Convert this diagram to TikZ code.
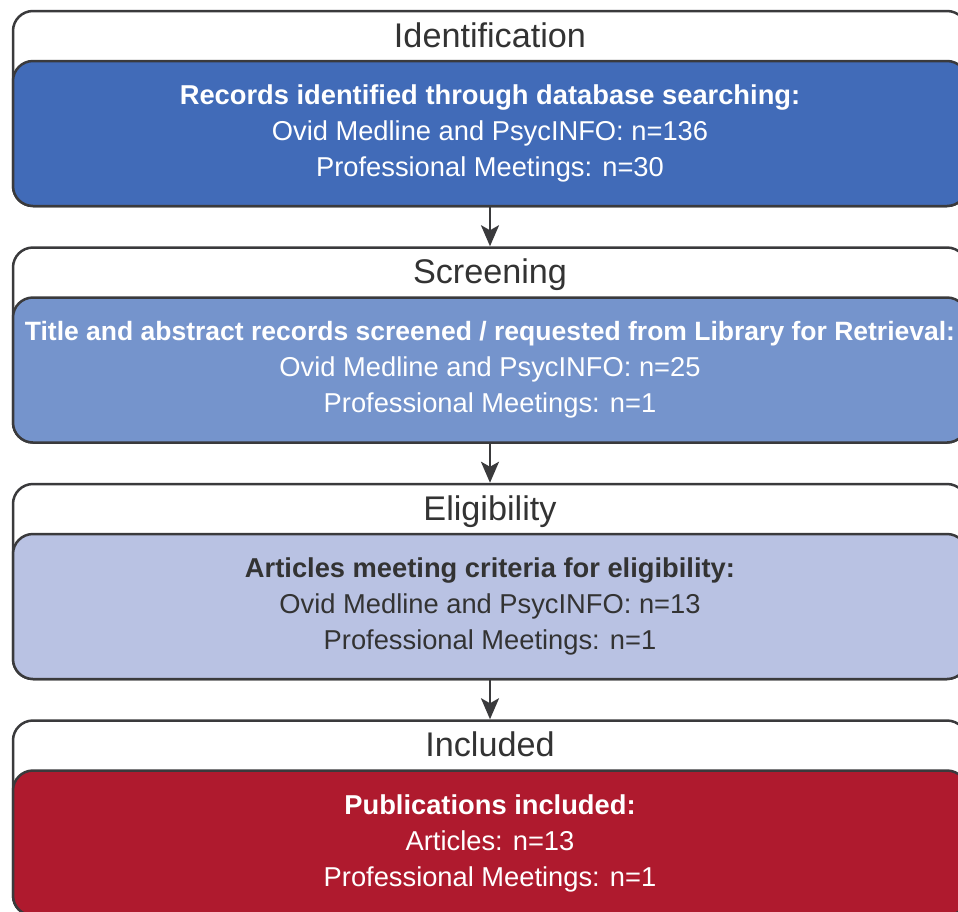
\documentclass[tikz,border=0pt]{standalone}
\usepackage{fontspec}
\setmainfont{Liberation Sans}
\usetikzlibrary{arrows.meta}

\definecolor{boxline}{RGB}{58,58,60}
\definecolor{textgray}{RGB}{51,51,51}
\definecolor{idblue}{RGB}{65,107,184}
\definecolor{scrblue}{RGB}{117,148,204}
\definecolor{eliblue}{RGB}{185,194,227}
\definecolor{incred}{RGB}{175,26,46}

\begin{document}
\begin{tikzpicture}[x=0.5pt, y=-0.5pt,
	stagebox/.style={draw=boxline, line width=1.25pt, rounded corners=10pt, fill=white,
		minimum width=477pt, minimum height=97.5pt, inner sep=0pt},
	infobox/.style={draw=boxline, line width=1.25pt, rounded corners=10pt,
		minimum width=477pt, minimum height=72.5pt, inner sep=0pt, align=center,
		font=\fontsize{13.65}{18}\selectfont, text=white},
	heading/.style={font=\fontsize{17.1}{20}\selectfont, text=textgray, anchor=base},
	flow/.style={draw=boxline, line width=1.25pt, -{Stealth[length=10.5pt, width=9pt, inset=2.5pt]}}]
		
		% Fix the page size and cut off what runs past it
		\useasboundingbox (0,0) rectangle (958,911);
		\clip (0,0) rectangle (958,911);
		
		% Draw the white stage boxes with their headings
		\foreach \name/\title [count=\i from 0] in {ident/Identification, screen/Screening, elig/Eligibility, incl/Included} {
			\node[stagebox] (\name-stage) at (490,108.5+236.5*\i) {};
			\node[heading] (\name-head) at (490,47+236.5*\i) {\title};
		}
		
		% Draw the coloured boxes with the counts
		\node[infobox, fill=idblue] (ident-info) at (490,133.5)
			{\textbf{Records identified through database searching:}\\
			 Ovid Medline and PsycINFO: n=136\\
			 Professional Meetings: n=30};
		\node[infobox, fill=scrblue] (screen-info) at (490,370)
			{{\fontsize{13.25}{18}\selectfont\textbf{Title and abstract records screened / requested from Library for Retrieval:}}\\
			 Ovid Medline and PsycINFO: n=25\\
			 Professional Meetings: n=1};
		\node[infobox, fill=eliblue, text=textgray] (elig-info) at (490,606.5)
			{\textbf{Articles meeting criteria for eligibility:}\\
			 Ovid Medline and PsycINFO: n=13\\
			 Professional Meetings: n=1};
		\node[infobox, fill=incred] (incl-info) at (490,843)
			{\textbf{Publications included:}\\
			 Articles: n=13\\
			 Professional Meetings: n=1};
		
		% Draw the arrows between the stages
		\foreach \a/\b in {ident/screen, screen/elig, elig/incl}
		\draw[flow] (\a-info) -- (\b-stage);
		
	\end{tikzpicture}
\end{document}
